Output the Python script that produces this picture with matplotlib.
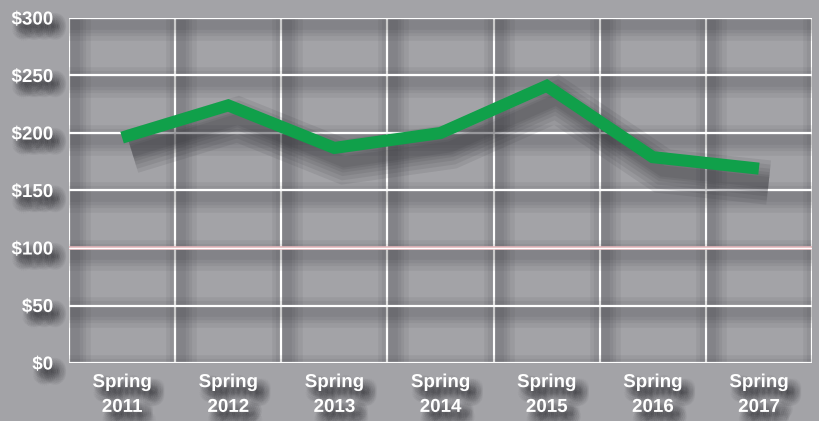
import matplotlib
matplotlib.use("Agg")
import matplotlib.pyplot as plt
import matplotlib.patheffects as pe
import numpy as np

# data
seasons = ["Spring\n2011", "Spring\n2012", "Spring\n2013", "Spring\n2014",
           "Spring\n2015", "Spring\n2016", "Spring\n2017"]
prices = [196, 224, 187, 200, 241, 179, 169]
y_ticks = [0, 50, 100, 150, 200, 250, 300]
y_labels = ["$0", "$50", "$100", "$150", "$200", "$250", "$300"]

bg = "#a3a3a7"
green = "#10a04a"
shadow = "#2e2e33"
font = ["Liberation Sans Narrow", "Liberation Sans", "DejaVu Sans"]


def soft_shadow(offset, widths, alpha, color=shadow):
    # stack a few wide translucent strokes to fake a blurred drop shadow
    return [pe.SimpleLineShadow(offset=offset, shadow_color=color, alpha=alpha,
                                rho=1, linewidth=w) for w in widths]


def text_shadow(offset, radius, alpha):
    # ring of many faint copies -> rough blur
    effects = []
    for r in np.linspace(0, radius, 5):
        n = max(1, int(r * 4))
        for a in np.linspace(0, 2 * np.pi, n, endpoint=False):
            effects.append(pe.SimplePatchShadow(
                offset=(offset[0] + r * np.cos(a), offset[1] + r * np.sin(a)),
                shadow_rgbFace=shadow, alpha=alpha))
    return effects + [pe.Normal()]


fig = plt.figure(figsize=(8.19, 4.21), dpi=100, facecolor=bg)
ax = fig.add_axes([69 / 819, 58 / 421, 743 / 819, 345 / 421])
ax.set_facecolor(bg)

x = np.arange(len(seasons))
ax.set_xlim(-0.5, len(seasons) - 0.5)
ax.set_ylim(0, 300)

# grid drawn by hand so each line can carry its own soft shadow
grid_shadow = soft_shadow((4, -5), [22, 16, 11, 7], 0.07)
for v in np.arange(-0.5, len(seasons), 1.0):
    ax.axvline(v, color="white", lw=1.6, zorder=2,
               path_effects=grid_shadow + [pe.Normal()])
for t in y_ticks:
    if t == 100:
        ax.axhline(t, color="#e6b7bb", lw=2.6, zorder=2,
                   path_effects=grid_shadow + [pe.Normal()])
        ax.axhline(t, color="white", lw=1.0, zorder=2.1)
    else:
        ax.axhline(t, color="white", lw=1.6, zorder=2,
                   path_effects=grid_shadow + [pe.Normal()])

line_shadow = soft_shadow((7, -10), [32, 26, 20, 15, 11, 8], 0.1)
ax.plot(x, prices, color=green, lw=8.7, solid_capstyle="butt",
        solid_joinstyle="miter", zorder=4,
        path_effects=line_shadow + [pe.Normal()])

for s in ax.spines.values():
    s.set_visible(False)

ax.set_xticks(x)
ax.set_xticklabels(seasons, fontsize=13.5, fontweight="bold", color="white",
                   family=font, linespacing=1.6)
ax.set_yticks(y_ticks)
ax.set_yticklabels(y_labels, fontsize=13.5, fontweight="bold", color="white",
                   family=font)
ax.tick_params(axis="x", length=0, pad=8)
ax.tick_params(axis="y", length=0, pad=11.5)

for lab in ax.get_xticklabels() + ax.get_yticklabels():
    lab.set_path_effects(text_shadow((5, -6), 5, 0.035))

fig.savefig("out.png", dpi=100, facecolor=bg)
